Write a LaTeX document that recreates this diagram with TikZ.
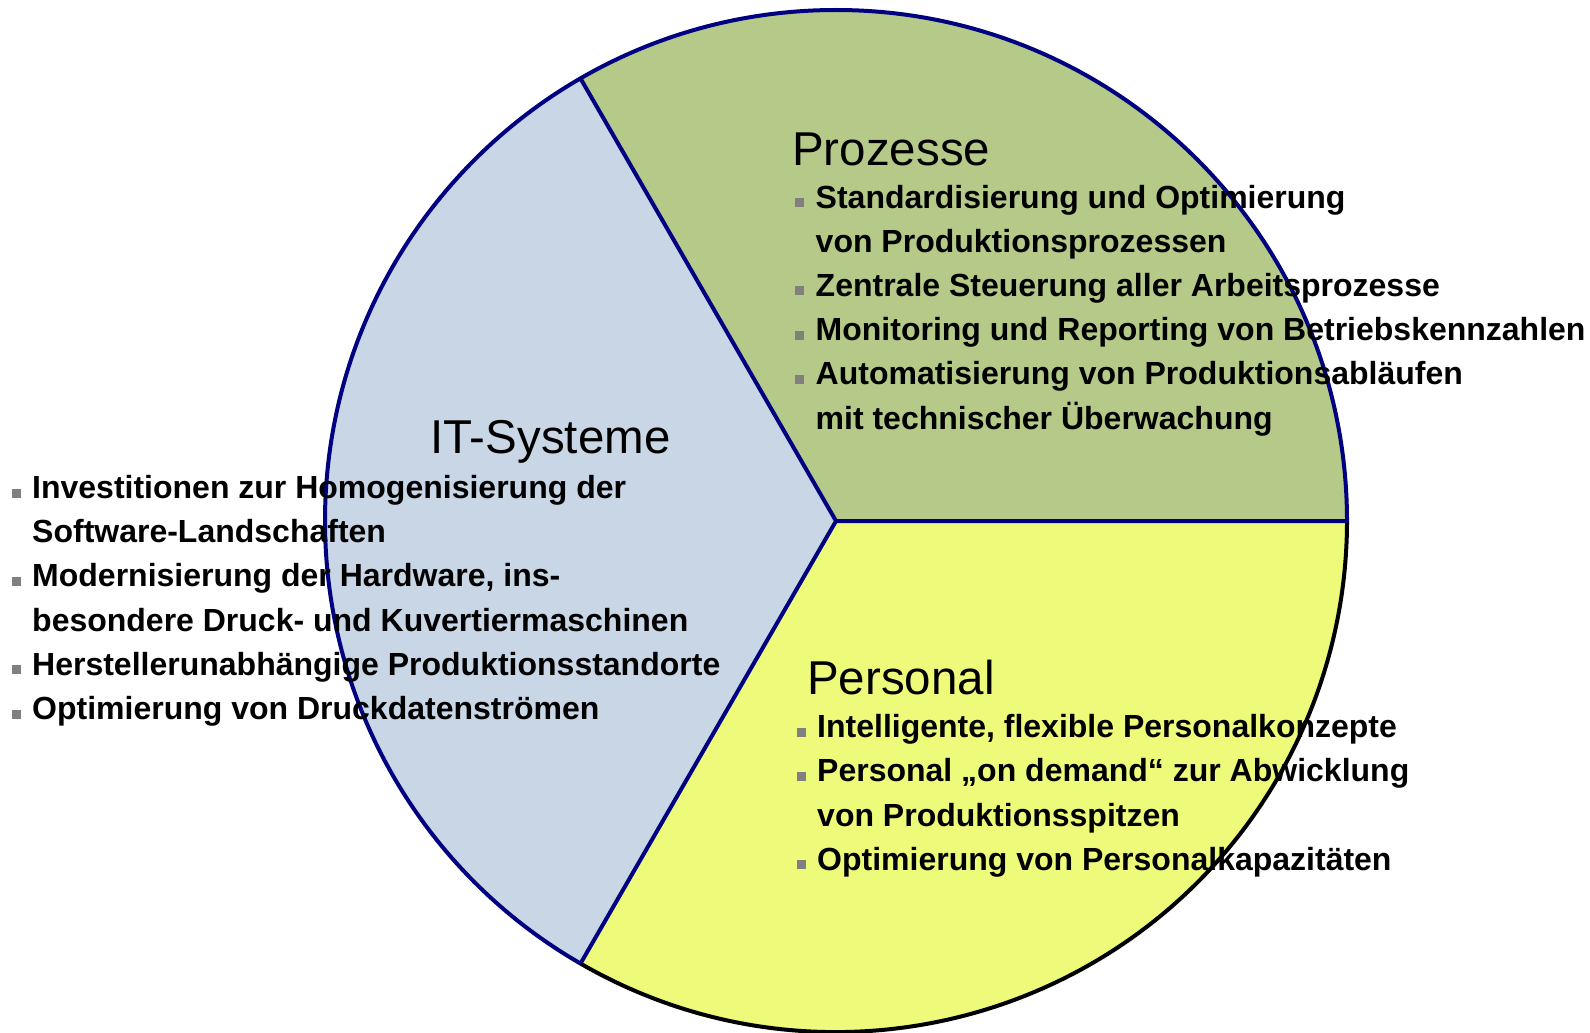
\documentclass[tikz,border=0pt]{standalone}
\usepackage{fontspec}
\setmainfont{Liberation Sans}
\usetikzlibrary{positioning}

\definecolor{procgreen}{RGB}{181,202,137}
\definecolor{itblue}{RGB}{201,214,230}
\definecolor{persyellow}{RGB}{238,250,122}
\definecolor{rimnavy}{RGB}{0,0,128}
\definecolor{bulletgrey}{RGB}{128,128,128}

\newcommand{\blt}{\makebox[20.5pt][l]{\textcolor{bulletgrey}{\rule[1pt]{9pt}{9pt}}}}
\newcommand{\cnt}{\hspace*{20.5pt}}

\begin{document}
\begin{tikzpicture}[x=1pt, y=-1pt,
title/.style = {anchor=base west, inner sep=0pt,
                font=\fontsize{47.5}{50}\selectfont},
item/.style  = {anchor=base west, inner sep=0pt,
                font=\fontsize{32}{44}\selectfont\bfseries},
rim/.style   = {draw=rimnavy, line width=4pt, line join=round},
                    ]
\useasboundingbox (0,0) rectangle (1590,1033);
%
\coordinate (C) at (836,521);
\path (C) ++(0:511)    coordinate (rt)
      (C) ++(-120:511) coordinate (ul)
      (C) ++(-240:511) coordinate (ll);
%
\fill[procgreen]  (C) -- (rt) arc[start angle=0,    end angle=-120, radius=511] -- cycle;
\fill[itblue]     (C) -- (ul) arc[start angle=-120, end angle=-240, radius=511] -- cycle;
\fill[persyellow] (C) -- (ll) arc[start angle=-240, end angle=-360, radius=511] -- cycle;
\draw[line width=4pt] (ll) arc[start angle=-240, end angle=-360, radius=511];
\draw[rim] (rt) arc[start angle=0, end angle=-240, radius=511];
\draw[rim] (rt) -- (C) -- (ul) (C) -- (ll);
%
\node[title] (prozT) at (792,165) {Prozesse};
\node[title] (itT)   at (430,453) {IT-Systeme};
\node[title] (persT) at (807,694) {Personal};
%
\foreach \txt [count=\i] in {
    {\blt Standardisierung und Optimierung},
    {\cnt von Produktionsprozessen},
    {\blt Zentrale Steuerung aller Arbeitsprozesse},
    {\blt Monitoring und Reporting von Betriebskennzahlen},
    {\blt Automatisierung von Produktionsabläufen},
    {\cnt mit technischer Überwachung}}
    \node[item] (proz\i) at (795,{208+44.2*(\i-1)}) {\txt};
%
\foreach \txt [count=\i] in {
    {\blt Investitionen zur Homogenisierung der},
    {\cnt Software-Landschaften},
    {\blt Modernisierung der Hardware, ins-},
    {\cnt besondere Druck- und Kuvertiermaschinen},
    {\blt Herstellerunabhängige Produktionsstandorte},
    {\blt Optimierung von Druckdatenströmen}}
    \node[item] (it\i) at (11.5,{498.5+44.2*(\i-1)}) {\txt};
%
\foreach \txt [count=\i] in {
    {\blt Intelligente, flexible Personalkonzepte},
    {\blt Personal „on demand“ zur Abwicklung},
    {\cnt von Produktionsspitzen},
    {\blt Optimierung von Personalkapazitäten}}
    \node[item] (pers\i) at (796.5,{737.7+44.2*(\i-1)}) {\txt};
\end{tikzpicture}
\end{document}
